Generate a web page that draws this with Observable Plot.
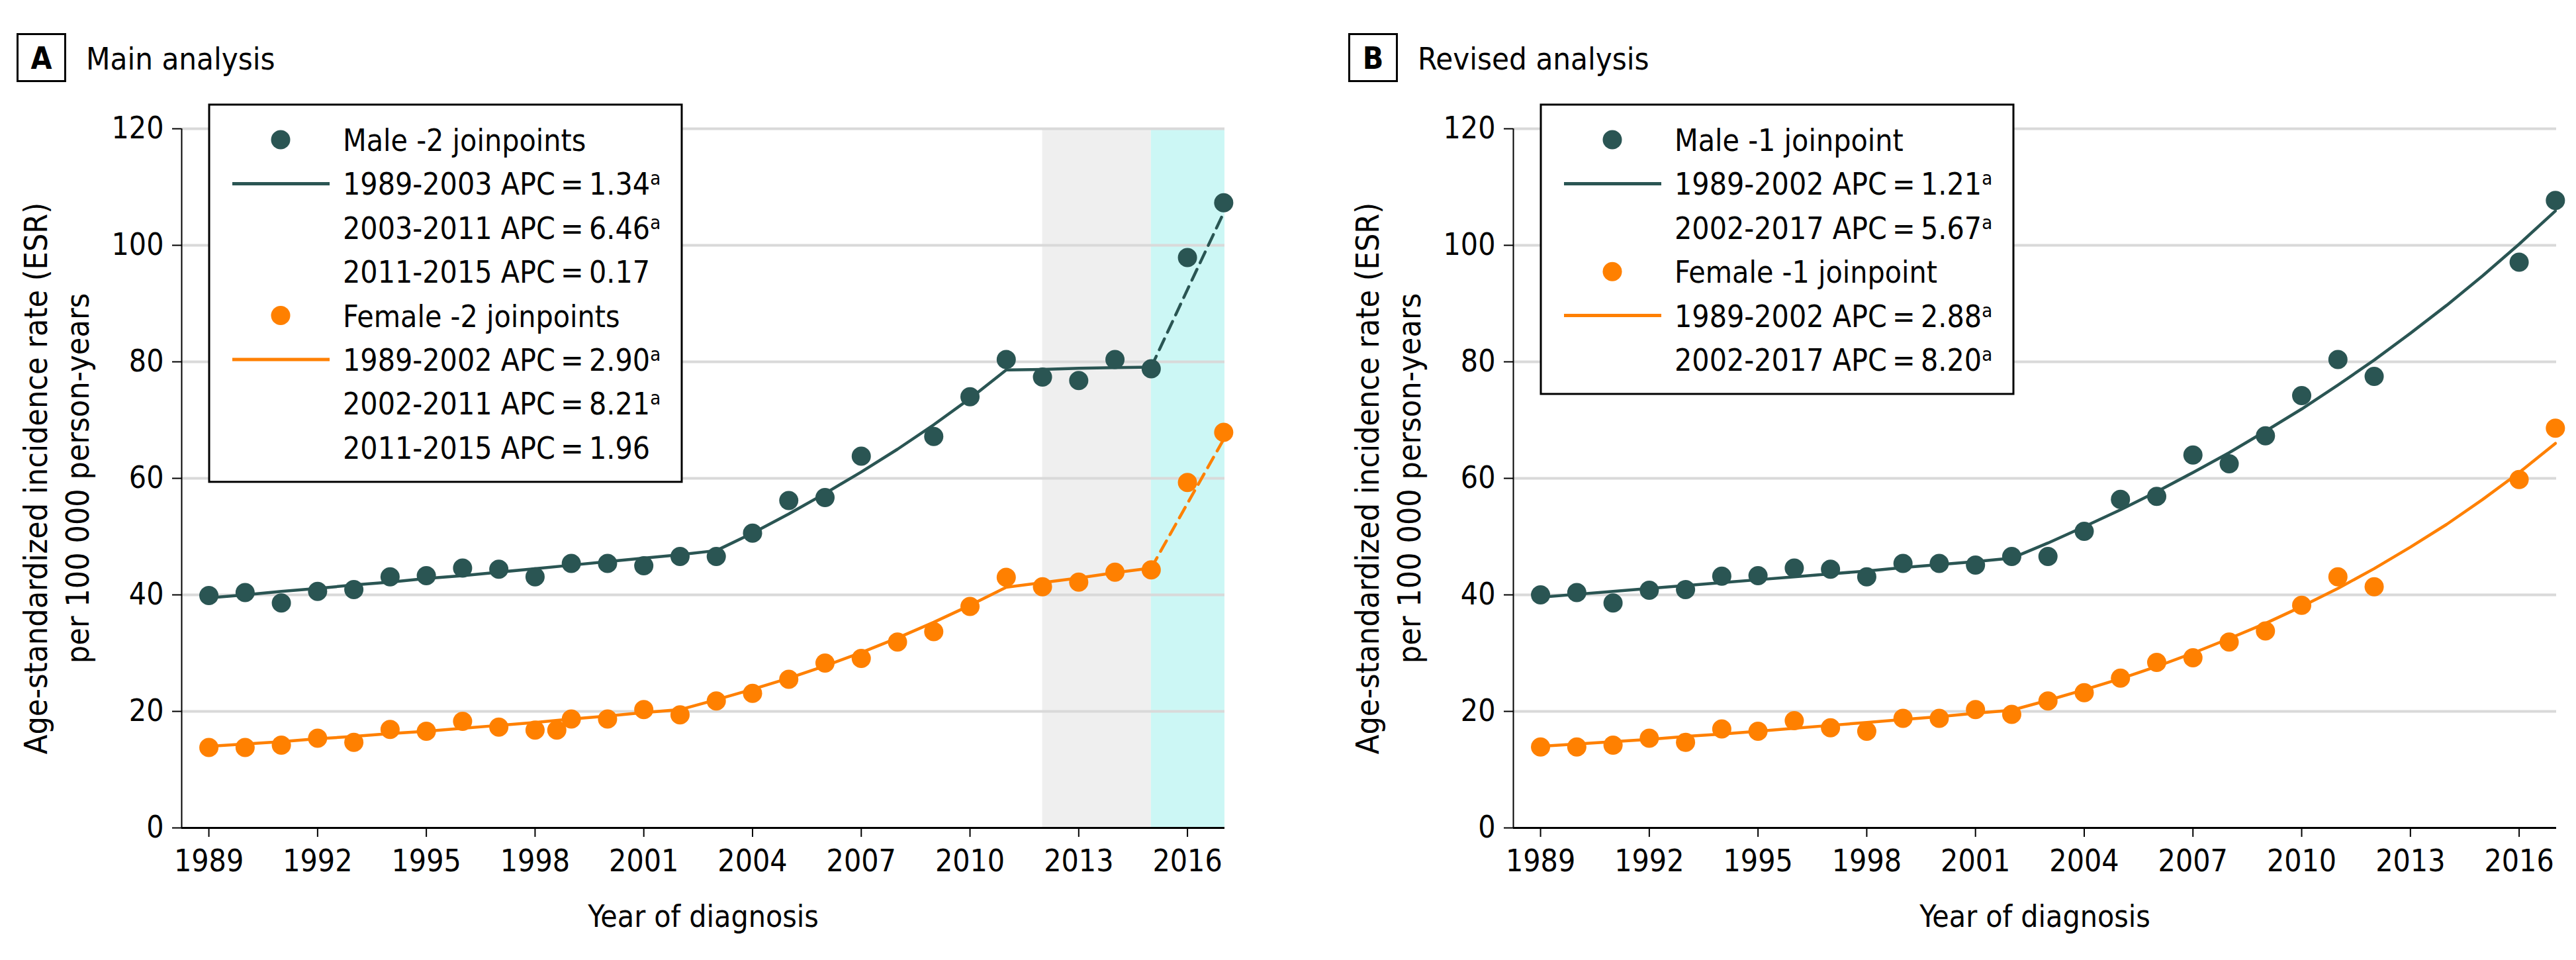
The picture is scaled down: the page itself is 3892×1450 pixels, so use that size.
<!DOCTYPE html>
<html>
<head>
<meta charset="utf-8">
<script src="https://cdn.jsdelivr.net/npm/d3@7"></script>
<script src="https://cdn.jsdelivr.net/npm/@observablehq/plot@0.6"></script>
<style>
  html, body { margin: 0; padding: 0; background: #fff; }
  #root { position: relative; width: 3892px; height: 1450px; overflow: hidden; background: #fff; }
  .panel { position: absolute; top: 0; width: 1950px; height: 1450px; }
  .panel svg { max-width: none !important; }
  .overlay { position: absolute; left: 0; top: 0; pointer-events: none; }
</style>
</head>
<body>
<div id="root"></div>
<script>
// ---------------- data ----------------
const xTicks = [1989, 1992, 1995, 1998, 2001, 2004, 2007, 2010, 2013, 2016];
const yTicks = [0, 20, 40, 60, 80, 100, 120];
const xDomain = [1988.25, 2017.03];
const yDomain = [0, 120];
const grayShade = [2012, 2015];
const cyanShade = [2015, 2017.03];

// Panel A – observed rates
const maleA_years = [1989,1990,1991,1992,1993,1994,1995,1996,1997,1998,1999,2000,2001,2002,2003,2004,2005,2006,2007,2009,2010,2011,2012,2013,2014,2015,2016,2017];
const maleA_values = [39.9,40.4,38.6,40.6,40.9,43.1,43.3,44.6,44.4,43.1,45.4,45.4,45.0,46.6,46.6,50.6,56.2,56.7,63.8,67.2,74.0,80.4,77.4,76.8,80.4,78.8,97.9,107.3];
const femaleA_years = [1989,1990,1991,1992,1993,1994,1995,1996,1997,1998,1998.6,1999,2000,2001,2002,2003,2004,2005,2006,2007,2008,2009,2010,2011,2012,2013,2014,2015,2016,2017];
const femaleA_values = [13.8,13.8,14.2,15.4,14.7,16.9,16.6,18.3,17.3,16.8,16.8,18.7,18.7,20.3,19.4,21.8,23.1,25.5,28.3,29.1,31.9,33.7,38.0,43.0,41.4,42.2,43.9,44.3,59.3,67.9];

// Panel A – joinpoint fits (solid 1989-2015, dashed 2015-2017)
const fitA_years = [1989,1990,1991,1992,1993,1994,1995,1996,1997,1998,1999,2000,2001,2002,2003,2004,2005,2006,2007,2008,2009,2010,2011,2012,2013,2014,2015];
const fitA_male = [39.5,40.0,40.6,41.1,41.7,42.2,42.8,43.3,43.9,44.5,45.1,45.7,46.3,46.9,47.6,50.6,53.9,57.4,61.1,65.0,69.2,73.7,78.6,78.7,78.9,79.0,79.1];
const fitA_female = [14.0,14.4,14.8,15.3,15.7,16.2,16.6,17.1,17.6,18.1,18.7,19.2,19.8,20.3,22.0,23.8,25.7,27.8,30.1,32.6,35.3,38.2,41.3,42.1,42.9,43.8,44.6];
const dashA_years = [2015, 2016, 2017];
const dashA_male = [79.1, 92.4, 105.6];
const dashA_female = [44.6, 55.7, 66.7];

// Panel B – observed rates
const maleB_years = [1989,1990,1991,1992,1993,1994,1995,1996,1997,1998,1999,2000,2001,2002,2003,2004,2005,2006,2007,2008,2009,2010,2011,2012,2016,2017];
const maleB_values = [40.0,40.4,38.6,40.8,40.9,43.2,43.3,44.6,44.4,43.1,45.4,45.4,45.1,46.6,46.6,50.9,56.4,56.9,64.0,62.5,67.3,74.2,80.4,77.5,97.1,107.7];
const femaleB_years = [1989,1990,1991,1992,1993,1994,1995,1996,1997,1998,1999,2000,2001,2002,2003,2004,2005,2006,2007,2008,2009,2010,2011,2012,2016,2017];
const femaleB_values = [13.9,13.9,14.2,15.4,14.7,17.0,16.6,18.4,17.2,16.6,18.8,18.8,20.3,19.5,21.8,23.2,25.7,28.4,29.2,31.9,33.8,38.2,43.1,41.4,59.8,68.6];

// Panel B – joinpoint fits
const fitB_years = [1989,1990,1991,1992,1993,1994,1995,1996,1997,1998,1999,2000,2001,2002,2003,2004,2005,2006,2007,2008,2009,2010,2011,2012,2013,2014,2015,2016,2017];
const fitB_male = [39.6,40.1,40.6,41.1,41.6,42.1,42.6,43.1,43.6,44.1,44.7,45.2,45.7,46.3,48.9,51.7,54.6,57.7,61.0,64.4,68.1,71.9,76.0,80.3,84.9,89.7,94.8,100.2,105.9];
const fitB_female = [14.0,14.4,14.8,15.2,15.7,16.1,16.6,17.1,17.6,18.1,18.6,19.1,19.7,20.2,21.9,23.7,25.6,27.7,30.0,32.5,35.1,38.0,41.1,44.5,48.2,52.1,56.4,61.0,66.0];

// Texts
const panelLetters = ["A", "B"];
const panelTitles = ["Main analysis", "Revised analysis"];
const yTitleLines = ["Age-standardized incidence rate (ESR)", "per 100 000 person-years"];
const xTitle = "Year of diagnosis";

const legendA_labels = ["Male -2 joinpoints", "1989-2003 APC\u2009=\u20091.34", "2003-2011 APC\u2009=\u20096.46", "2011-2015 APC\u2009=\u20090.17",
                        "Female -2 joinpoints", "1989-2002 APC\u2009=\u20092.90", "2002-2011 APC\u2009=\u20098.21", "2011-2015 APC\u2009=\u20091.96"];
const legendA_keys = ["dot-male", "line-male", "", "", "dot-female", "line-female", "", ""];
const legendA_sup = ["", "a", "a", "", "", "a", "a", ""];
const legendB_labels = ["Male -1 joinpoint", "1989-2002 APC\u2009=\u20091.21", "2002-2017 APC\u2009=\u20095.67",
                        "Female -1 joinpoint", "1989-2002 APC\u2009=\u20092.88", "2002-2017 APC\u2009=\u20098.20"];
const legendB_keys = ["dot-male", "line-male", "", "dot-female", "line-female", ""];
const legendB_sup = ["", "a", "a", "", "a", "a"];

// ---------------- styling ----------------
const FONT = '"DejaVu Sans Condensed", "DejaVu Sans", sans-serif';
const MALE = "#2a5553";
const FEMALE = "#ff8000";
const COLORS = {male: MALE, female: FEMALE};
const PANEL_W = 1950, PANEL_H = 1450;
const panelLeft = [0, 2012];

const zip = (xs, ys) => xs.map((x, i) => ({year: x, value: ys[i]}));

function makePanel(cfg) {
  const marks = [];
  if (cfg.shade) {
    marks.push(Plot.rect([{a: grayShade[0], b: grayShade[1]}], {x1: "a", x2: "b", y1: yDomain[0], y2: yDomain[1], fill: "#efefef"}));
    marks.push(Plot.rect([{a: cyanShade[0], b: cyanShade[1]}], {x1: "a", x2: "b", y1: yDomain[0], y2: yDomain[1], fill: "#ccf7f5"}));
  }
  marks.push(
    Plot.ruleY(yTicks.filter(d => d > 0), {stroke: "#d9d9d9", strokeWidth: 4}),
    Plot.ruleX([xDomain[0]], {y1: yDomain[0], y2: yDomain[1], stroke: "#000", strokeWidth: 2}),
    Plot.axisY({ticks: yTicks, tickSize: 14, tickPadding: 13, strokeWidth: 2, label: null, fontSize: 46}),
    Plot.axisX({ticks: xTicks, tickSize: 14, tickPadding: 19, strokeWidth: 2, label: null, fontSize: 46, tickFormat: d => String(d)}),
    Plot.ruleY([0], {stroke: "#000", strokeWidth: 3}),
    Plot.line(cfg.maleFit, {x: "year", y: "value", stroke: MALE, strokeWidth: 4.5}),
    Plot.line(cfg.femaleFit, {x: "year", y: "value", stroke: FEMALE, strokeWidth: 4.5})
  );
  if (cfg.maleDash) {
    marks.push(
      Plot.line(cfg.maleDash, {x: "year", y: "value", stroke: MALE, strokeWidth: 4.5, strokeDasharray: "18,11"}),
      Plot.line(cfg.femaleDash, {x: "year", y: "value", stroke: FEMALE, strokeWidth: 4.5, strokeDasharray: "18,11"})
    );
  }
  marks.push(
    Plot.dot(cfg.maleObs, {x: "year", y: "value", r: 14.5, fill: MALE, stroke: null}),
    Plot.dot(cfg.femaleObs, {x: "year", y: "value", r: 14.5, fill: FEMALE, stroke: null}),
    Plot.text([yTitleLines[0]], {text: d => d, frameAnchor: "left", rotate: -90, dx: -219, lineAnchor: "middle", textAnchor: "middle", fontSize: 48, fill: "#000"}),
    Plot.text([yTitleLines[1]], {text: d => d, frameAnchor: "left", rotate: -90, dx: -156, lineAnchor: "middle", textAnchor: "middle", fontSize: 48, fill: "#000"}),
    Plot.text([xTitle], {text: d => d, frameAnchor: "bottom", dy: 135, lineAnchor: "middle", textAnchor: "middle", fontSize: 46, fill: "#000"})
  );
  return Plot.plot({
    width: PANEL_W, height: PANEL_H,
    marginLeft: 274, marginRight: 100, marginTop: 194, marginBottom: 200,
    x: {domain: xDomain},
    y: {domain: yDomain},
    style: {fontFamily: FONT, fontSize: "46px", background: "transparent", color: "#000", overflow: "visible", maxWidth: "none"},
    marks
  });
}

const root = document.getElementById("root");
const panels = [
  {shade: true, maleObs: zip(maleA_years, maleA_values), femaleObs: zip(femaleA_years, femaleA_values),
   maleFit: zip(fitA_years, fitA_male), femaleFit: zip(fitA_years, fitA_female),
   maleDash: zip(dashA_years, dashA_male), femaleDash: zip(dashA_years, dashA_female)},
  {shade: false, maleObs: zip(maleB_years, maleB_values), femaleObs: zip(femaleB_years, femaleB_values),
   maleFit: zip(fitB_years, fitB_male), femaleFit: zip(fitB_years, fitB_female)}
];
panels.forEach((cfg, i) => {
  const chart = makePanel(cfg);
  chart.style.maxWidth = "none";
  chart.style.width = PANEL_W + "px";
  chart.style.height = PANEL_H + "px";
  const wrap = document.createElement("div");
  wrap.className = "panel";
  wrap.style.left = panelLeft[i] + "px";
  wrap.appendChild(chart);
  root.appendChild(wrap);
});

// ---------------- overlay: panel headers and legends ----------------
const svg = d3.select(root).append("svg")
  .attr("class", "overlay")
  .attr("width", 3892).attr("height", 1450)
  .style("font-family", FONT);

panelLetters.forEach((letter, i) => {
  const ox = panelLeft[i];
  svg.append("rect").attr("x", ox + 26.5).attr("y", 51.5).attr("width", 72).attr("height", 71)
    .attr("fill", "#fff").attr("stroke", "#000").attr("stroke-width", 3);
  svg.append("text").attr("x", ox + 62.5).attr("y", 104).attr("text-anchor", "middle")
    .attr("font-size", 46).attr("font-weight", "bold").text(letter);
  svg.append("text").attr("x", ox + 130).attr("y", 105).attr("font-size", 47).text(panelTitles[i]);
});

function drawLegend(ox, labels, keys, sups) {
  const left = ox + 316, top = 158, w = 714, rowH = 66.4, firstRow = 211;
  const h = (firstRow - top) + (labels.length - 1) * rowH + 52;
  const g = svg.append("g");
  g.append("rect").attr("x", left).attr("y", top).attr("width", w).attr("height", h)
    .attr("fill", "#fff").attr("stroke", "#000").attr("stroke-width", 3);
  labels.forEach((lab, k) => {
    const cy = firstRow + k * rowH;
    const key = keys[k];
    if (key.startsWith("dot")) {
      g.append("circle").attr("cx", left + 108).attr("cy", cy).attr("r", 14.5)
        .attr("fill", COLORS[key.split("-")[1]]);
    } else if (key.startsWith("line")) {
      g.append("line").attr("x1", left + 35).attr("x2", left + 182).attr("y1", cy).attr("y2", cy)
        .attr("stroke", COLORS[key.split("-")[1]]).attr("stroke-width", 5);
    }
    const t = g.append("text").attr("x", left + 202).attr("y", cy + 17).attr("font-size", 46).attr("fill", "#000");
    t.append("tspan").text(lab);
    if (sups[k]) t.append("tspan").attr("dy", -15).attr("font-size", 29).text(sups[k]);
  });
}
drawLegend(panelLeft[0], legendA_labels, legendA_keys, legendA_sup);
drawLegend(panelLeft[1], legendB_labels, legendB_keys, legendB_sup);
</script>
</body>
</html>
